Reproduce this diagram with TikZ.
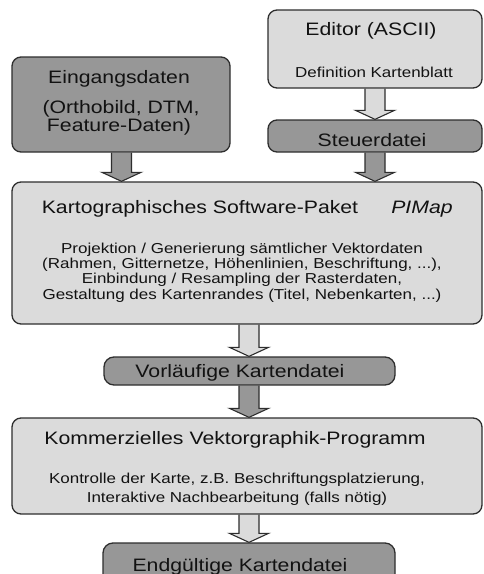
\documentclass[tikz,border=0pt]{standalone}
\usepackage{fontspec}
\setmainfont{Liberation Sans}[FakeStretch=1.18]
\usetikzlibrary{calc,backgrounds}
\definecolor{darkfill}{HTML}{979797}
\definecolor{lightfill}{HTML}{DBDBDB}
\definecolor{edge}{HTML}{2E2E2E}
\definecolor{ink}{HTML}{121212}
\tikzset{
 box/.style={draw=edge, line width=1.3pt, rounded corners=9pt, inner sep=0pt},
 darkbox/.style={box, fill=darkfill},
 lightbox/.style={box, fill=lightfill},
 title/.style={anchor=base, inner sep=0pt, text=ink, font=\fontsize{18}{21}\selectfont},
 body/.style={anchor=base, inner sep=0pt, text=ink, font=\fontsize{14.4}{15.3}\selectfont},
 barrow/.style={draw=edge, line width=1.1pt, line join=miter},
}
\newcommand\blockarrow[4]{%
 \draw[barrow, fill=#1] let \p1=(#3.south), \p2=(#4.north) in
  (#2pt-10pt,\y1) -- (#2pt-10pt,\y2+9pt) -- (#2pt-19.5pt,\y2+9pt) -- (#2pt,\y2)
  -- (#2pt+19.5pt,\y2+9pt) -- (#2pt+10pt,\y2+9pt) -- (#2pt+10pt,\y1);
}
\begin{document}
\begin{tikzpicture}[x=1pt,y=-1pt]
\useasboundingbox (0,0) rectangle (483,574);
% boxes
\node[lightbox, minimum width=214pt, minimum height=78pt] (editor) at (375,49) {};
\node[darkbox, minimum width=218pt, minimum height=95pt] (eing) at (121,104.5) {};
\node[darkbox, minimum width=214pt, minimum height=32pt] (steuer) at (375,136) {};
\node[lightbox, minimum width=470pt, minimum height=142pt] (main) at (247,253) {};
\node[darkbox, minimum width=291pt, minimum height=28pt, rounded corners=10pt] (vorl) at (249.5,371) {};
\node[lightbox, minimum width=470pt, minimum height=96pt] (komm) at (247,466) {};
\node[darkbox, minimum width=292pt, minimum height=42pt, rounded corners=10pt] (endg) at (249,564) {};
% texts
\node[title] (tEditor) at (371,35) {Editor (ASCII)};
\node[body] (tDef) at (374,77) {Definition Kartenblatt};
\node[title] (tEing1) at (119,83) {Eingangsdaten};
\node[title] (tEing2) at (121,113) {(Orthobild, DTM,};
\node[title] (tEing3) at (119,131) {Feature-Daten)};
\node[title] (tSteuer) at (372,146) {Steuerdatei};
\node[title] (tMain) at (200,213) {Kartographisches Software-Paket};
\node[title, font=\fontsize{18}{21}\selectfont\itshape] (tPIMap) at (422,213) {PIMap};
\node[body] (tM1) at (242,253) {Projektion / Generierung sämtlicher Vektordaten};
\node[body] (tM2) at (242,268) {(Rahmen, Gitternetze, Höhenlinien, Beschriftung, ...),};
\node[body] (tM3) at (242,283) {Einbindung / Resampling der Rasterdaten,};
\node[body] (tM4) at (242,299) {Gestaltung des Kartenrandes (Titel, Nebenkarten, ...)};
\node[title] (tVorl) at (240,377) {Vorläufige Kartendatei};
\node[title] (tKomm) at (235,444) {Kommerzielles Vektorgraphik-Programm};
\node[body] (tK1) at (237,483) {Kontrolle der Karte, z.B. Beschriftungsplatzierung,};
\node[body] (tK2) at (237,502) {Interaktive Nachbearbeitung (falls nötig)};
\node[title] (tEndg) at (240,571) {Endgültige Kartendatei};
% arrows
\begin{pgfonlayer}{background}
\fill[white] (0,0) rectangle (483,574);
\blockarrow{darkfill}{121.5}{eing}{main}
\blockarrow{lightfill}{375}{editor}{steuer}
\blockarrow{darkfill}{375}{steuer}{main}
\blockarrow{lightfill}{249}{main}{vorl}
\blockarrow{darkfill}{249}{vorl}{komm}
\blockarrow{lightfill}{249}{komm}{endg}
\end{pgfonlayer}
\end{tikzpicture}
\end{document}
